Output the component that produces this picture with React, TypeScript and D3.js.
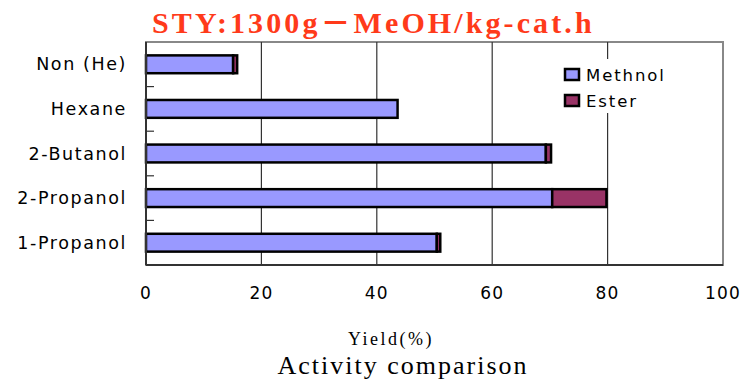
import React from "react";
import * as d3 from "d3";

const categories = ["Non (He)", "Hexane", "2-Butanol", "2-Propanol", "1-Propanol"];
const methnol = [15.1, 43.6, 69.3, 70.4, 50.4];
const ester = [0.7, 0, 0.9, 9.4, 0.6];
const xTicks = [0, 20, 40, 60, 80, 100];
const seriesNames = ["Methnol", "Ester"];
const seriesColors = ["#9999ff", "#993366"];

export default function App() {
  const W = 744, H = 380;
  const left = 146, right = 723, top = 42, bottom = 265;
  const x = d3.scaleLinear().domain([0, 100]).range([left, right]);
  const y = d3.scaleBand<string>().domain(categories).range([top, bottom]).paddingInner(0.6).paddingOuter(0.3);
  const step = y.step();
  const sans = "'DejaVu Sans', Verdana, sans-serif";
  const serif = "'Liberation Serif', 'DejaVu Serif', serif";

  return (
    <svg width={W} height={H} style={{ position: "absolute", left: 0, top: 0, background: "#fff" }}>
      <rect x={0} y={0} width={W} height={H} fill="#fff" />
      <text x={152} y={33} fontFamily="'Liberation Serif', 'Noto Sans CJK JP', serif" fontWeight="bold" fontSize={30} letterSpacing={3.1} fill="#ff3a1a">
        STY:1300g－MeOH/kg-cat.h
      </text>
      {/* plot frame */}
      <rect x={left} y={top} width={right - left} height={bottom - top} fill="#fff" stroke="#888" strokeWidth={2} />
      {/* gridlines */}
      {xTicks.slice(1, -1).map((t) => (
        <line key={t} x1={x(t)} x2={x(t)} y1={top} y2={bottom} stroke="#333" strokeWidth={1.2} />
      ))}
      {/* legend box */}
      <rect x={556} y={59} width={140} height={54} fill="#fff" />
      {seriesNames.map((s, i) => (
        <g key={s}>
          <rect x={565} y={69 + i * 26} width={14} height={11} fill={seriesColors[i]} stroke="#000" strokeWidth={2.5} />
          <text x={586} y={81 + i * 26} fontFamily={sans} fontSize={16.5} letterSpacing={1.9} fill="#000">{s}</text>
        </g>
      ))}
      {/* bars */}
      {categories.map((c, i) => {
        const yy = y(c)!;
        const bh = y.bandwidth();
        return (
          <g key={c}>
            <rect x={x(0)} y={yy} width={x(methnol[i]) - x(0)} height={bh} fill={seriesColors[0]} stroke="#000" strokeWidth={2.5} />
            {ester[i] > 0 && (
              <rect x={x(methnol[i])} y={yy} width={x(methnol[i] + ester[i]) - x(methnol[i])} height={bh} fill={seriesColors[1]} stroke="#000" strokeWidth={2.5} />
            )}
          </g>
        );
      })}
      {/* axes */}
      <line x1={left} x2={left} y1={top} y2={bottom} stroke="#333" strokeWidth={2} />
      <line x1={left} x2={right} y1={bottom} y2={bottom} stroke="#333" strokeWidth={2} />
      {categories.slice(1).map((c) => (
        <line key={c} x1={left} x2={left + 8} y1={y(c)! - (step - y.bandwidth()) / 2} y2={y(c)! - (step - y.bandwidth()) / 2} stroke="#333" strokeWidth={1.2} />
      ))}
      {categories.map((c) => (
        <text key={c} x={127} y={y(c)! + y.bandwidth() / 2 + 6} textAnchor="end" fontFamily={sans} fontSize={17.5} letterSpacing={1.6} fill="#000">{c}</text>
      ))}
      {xTicks.map((t) => (
        <text key={t} x={x(t)} y={299} textAnchor="middle" fontFamily={sans} fontSize={17} letterSpacing={1.2} fill="#000">{t}</text>
      ))}
      <text x={391} y={345} textAnchor="middle" fontFamily={serif} fontSize={18} letterSpacing={2.5} fill="#000">Yield(%)</text>
      <text x={403} y={374} textAnchor="middle" fontFamily={serif} fontSize={26} letterSpacing={2} fill="#000">Activity comparison</text>
    </svg>
  );
}
